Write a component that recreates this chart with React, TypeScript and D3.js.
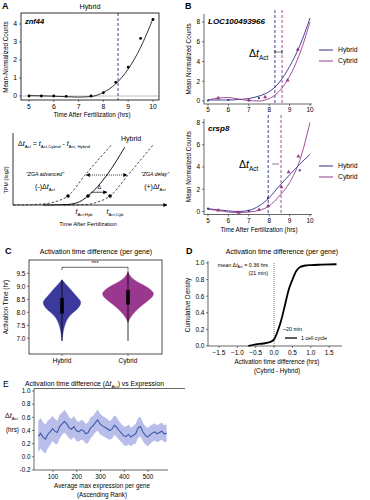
import React from 'react';
import * as d3 from 'd3';

const FONT = "'Liberation Sans', Arial, Helvetica, sans-serif";
const NAVY = '#2e2f86';
const PURPLE = '#973a8c';
const HYB_FILL = '#3b3a9c';
const CYB_FILL = '#9a378f';
const E_LINE = '#3a5aa8';
const E_BAND = '#b9bdea';

// ---------- Panel A (znf44, Hybrid)
const aObsTimes = [5, 5.5, 6, 6.5, 7.5, 8, 8.5, 9, 9.5, 10];
const aObsCounts = [0, 0, 0, -0.02, 0, 0.18, 0.76, 1.6, 3.2, 4.25];
const aFitTimes = [5, 5.5, 6, 6.5, 7, 7.5, 8, 8.5, 9, 9.5, 10];
const aFitCounts = [0.02, 0.01, -0.01, -0.04, -0.06, -0.03, 0.2, 0.68, 1.5, 2.7, 4.3];
const aActTime = 8.59;
const aXTicks = [5, 6, 7, 8, 9, 10];
const aYTicks = [0, 1, 2, 3, 4];

// ---------- Panel A schematic (relative units 0..100)
const sAdvancedX = [0, 12, 22, 30, 35.7, 46.8, 56.5, 64.3];
const sAdvancedY = [0, 0.5, 2, 6, 12, 40, 63, 81];
const sHybridX = [19.5, 34, 41.6, 48.7, 61, 72.5];
const sHybridY = [0, 0.5, 3, 12, 40, 77];
const sDelayX = [33, 47, 55, 63, 74.7, 90.9];
const sDelayY = [0, 0.5, 4, 12, 40, 80];

// ---------- Panel B
const bTimes = [5, 5.5, 6, 6.5, 7, 7.5, 8, 8.5, 9, 9.5, 10];
const bXTicks = [5, 6, 7, 8, 9, 10];
const bYTicks = [0, 2, 4, 6, 8];
const b1Hybrid = [0.1, 0.1, 0.1, 0.15, 0.25, 0.5, 0.95, 1.9, 3.5, 5.6, 8.4];
const b1Cybrid = [0.1, 0.3, 0.35, 0.2, 0.05, 0.0, 0.25, 1.0, 2.5, 4.8, 8.0];
const b1HybPtsT = [5, 6, 7, 7.5];
const b1HybPtsV = [0.05, 0.1, 0.05, 0.3];
const b1CybPtsT = [5.5, 7, 7.8, 8.9, 9.4];
const b1CybPtsV = [0.3, 0.1, 0.4, 2.1, 5.2];
const b1ActHybrid = 8.28;
const b1ActCybrid = 8.63;

const b2Hybrid = [0.25, 0.15, 0.05, 0.0, 0.1, 0.5, 1.25, 2.3, 3.3, 4.25, 5.15];
const b2Cybrid = [0.2, 0.1, -0.05, -0.1, -0.05, 0.1, 0.5, 1.4, 2.6, 4.6, 8.0];
const b2HybPtsT = [5, 7, 7.95, 9.5];
const b2HybPtsV = [0.25, 0.05, 1.2, 3.7];
const b2CybPtsT = [5.5, 6.5, 7.5, 7.95, 8.6, 8.95, 9.43];
const b2CybPtsV = [0.1, -0.1, 0.15, 0.5, 2.2, 3.55, 4.95];
const b2ActHybrid = 7.95;
const b2ActCybrid = 8.58;

// ---------- Panel C (violins)
const cGroups = ['Hybrid', 'Cybrid'];
const cYTicks = [7.0, 7.5, 8.0, 8.5, 9.0, 9.5];
const cHybridLevels = [6.9, 7.1, 7.3, 7.5, 7.7, 7.85, 8.0, 8.15, 8.3, 8.42, 8.55, 8.7, 8.85, 9.0, 9.12, 9.25];
const cHybridDensity = [0, 0.03, 0.07, 0.14, 0.25, 0.37, 0.6, 0.85, 0.98, 1.0, 0.85, 0.65, 0.5, 0.3, 0.15, 0];
const cCybridLevels = [7.6, 7.75, 7.95, 8.1, 8.27, 8.45, 8.6, 8.72, 8.85, 9.0, 9.12, 9.25, 9.4, 9.55];
const cCybridDensity = [0, 0.06, 0.2, 0.35, 0.53, 0.78, 0.95, 1.0, 0.9, 0.7, 0.45, 0.22, 0.08, 0];
const cHybridBox = [7.95, 8.55];
const cCybridBox = [8.3, 8.85];
const cHybridWhisker = [6.9, 9.25];
const cCybridWhisker = [6.9, 9.6];

// ---------- Panel D (CDF)
const dDiff = [-0.7, -0.5, -0.3, -0.1, 0.0, 0.1, 0.2, 0.3, 0.4, 0.5, 0.6, 0.7, 0.85, 1.0, 1.3, 1.7];
const dCdf = [0, 0.02, 0.03, 0.05, 0.08, 0.18, 0.32, 0.5, 0.68, 0.8, 0.9, 0.95, 0.97, 0.975, 0.98, 0.985];
const dXTicks = [-1.5, -1.0, -0.5, 0.0, 0.5, 1.0, 1.5];
const dYTicks = [0, 0.2, 0.4, 0.6, 0.8, 1.0];

// ---------- Panel E (rolling mean)
const eRank = [38, 48, 58, 68, 78, 88, 98, 108, 118, 128, 138, 148, 158, 168, 178, 188, 198, 208, 218, 228,
  238, 248, 258, 268, 278, 288, 298, 308, 318, 328, 338, 348, 358, 368, 378, 388, 398, 408, 418, 428,
  438, 448, 458, 468, 478, 488, 498, 508, 518, 528, 538, 548, 558, 568, 578];
const eValue = [0.31, 0.36, 0.30, 0.27, 0.34, 0.38, 0.43, 0.39, 0.37, 0.46, 0.50, 0.54, 0.50, 0.44, 0.42, 0.46, 0.40, 0.38, 0.41, 0.40,
  0.35, 0.37, 0.44, 0.47, 0.52, 0.56, 0.50, 0.47, 0.45, 0.43, 0.40, 0.42, 0.48, 0.45, 0.40, 0.36, 0.32, 0.31, 0.34, 0.30,
  0.33, 0.35, 0.44, 0.46, 0.38, 0.33, 0.30, 0.33, 0.36, 0.38, 0.35, 0.37, 0.39, 0.35, 0.36];
const eSpread = [0.24, 0.23, 0.22, 0.22, 0.21, 0.2, 0.19, 0.19, 0.18, 0.18, 0.17, 0.17, 0.17, 0.16, 0.16, 0.16, 0.16, 0.15, 0.15, 0.15,
  0.15, 0.16, 0.16, 0.15, 0.15, 0.16, 0.16, 0.15, 0.15, 0.15, 0.14, 0.15, 0.15, 0.15, 0.14, 0.14, 0.14, 0.15, 0.15, 0.14,
  0.14, 0.15, 0.15, 0.15, 0.14, 0.14, 0.14, 0.14, 0.13, 0.13, 0.13, 0.13, 0.13, 0.13, 0.13];
const eXTicks = [100, 200, 300, 400, 500];
const eYTicks = [-0.2, 0.0, 0.2, 0.4, 0.6, 0.8, 1.0];

type P = [number, number];

function Act({ x, y, size, anchor = 'start', prefix = '', italic = true }: any) {
  return (
    <text x={x} y={y} fontSize={size} textAnchor={anchor} fill="#000">
      {prefix}Δ<tspan fontStyle={italic ? 'italic' : 'normal'}>t</tspan>
      <tspan dy={size * 0.25} fontSize={size * 0.62}>Act</tspan>
    </text>
  );
}

function BPanel(p: any) {
  const x = d3.scaleLinear().domain([5, 10]).range([208, 310]);
  const y = d3.scaleLinear().domain([0, 8]).range([p.y0, p.y8]);
  const line = d3.line<P>().x(d => x(d[0])).y(d => y(d[1])).curve(d3.curveMonotoneX);
  const hyb = line(bTimes.map((t, i) => [t, p.hyb[i]] as P)) || '';
  const cyb = line(bTimes.map((t, i) => [t, p.cyb[i]] as P)) || '';
  const tri = d3.symbol().type(d3.symbolTriangle).size(7)() || '';
  return (
    <g>
      <line x1={204} x2={204} y1={p.axisTop} y2={p.axisBottom} stroke="#000" strokeWidth={0.6} />
      <line x1={204} x2={312} y1={p.axisBottom} y2={p.axisBottom} stroke="#000" strokeWidth={0.6} />
      {bYTicks.map(t => (
        <g key={'y' + t}>
          <line x1={202} x2={204} y1={y(t)} y2={y(t)} stroke="#000" strokeWidth={0.5} />
          <text x={200} y={y(t) + 2.3} fontSize={6.5} textAnchor="end">{t}</text>
        </g>
      ))}
      {bXTicks.map(t => (
        <g key={'x' + t}>
          <line x1={x(t)} x2={x(t)} y1={p.axisBottom} y2={p.axisBottom + 2} stroke="#000" strokeWidth={0.5} />
          <text x={x(t)} y={p.axisBottom + 8} fontSize={6.5} textAnchor="middle">{t}</text>
        </g>
      ))}
      <text transform={`translate(191,${(p.axisTop + p.axisBottom) / 2}) rotate(-90)`} fontSize={6.3} textAnchor="middle">Mean Normalized Counts</text>
      <line x1={x(p.actH)} x2={x(p.actH)} y1={p.axisTop - 4} y2={p.axisBottom} stroke={NAVY} strokeWidth={0.9} strokeDasharray="3,2" />
      <line x1={x(p.actC)} x2={x(p.actC)} y1={p.axisTop - 4} y2={p.axisBottom} stroke={PURPLE} strokeWidth={0.9} strokeDasharray="3,2" />
      <path d={hyb} fill="none" stroke={NAVY} strokeWidth={0.9} />
      <path d={cyb} fill="none" stroke={PURPLE} strokeWidth={0.9} />
      {p.hybPtsT.map((t: number, i: number) => (
        <circle key={'hp' + i} cx={x(t)} cy={y(p.hybPtsV[i])} r={1.1} fill={NAVY} />
      ))}
      {p.cybPtsT.map((t: number, i: number) => (
        <path key={'cp' + i} d={tri} transform={`translate(${x(t)},${y(p.cybPtsV[i])})`} fill={PURPLE} />
      ))}
      <text x={208} y={p.geneY} fontSize={8} fontStyle="italic" fontWeight="bold">{p.gene}</text>
      <Act x={p.deltaX} y={p.deltaY} size={10.5} />
      <path d={p.markPath} fill="none" stroke="#000" strokeWidth={0.5} />
      <line x1={319} x2={333} y1={p.legY} y2={p.legY} stroke={NAVY} strokeWidth={1} />
      <text x={338} y={p.legY + 2.3} fontSize={6.8}>Hybrid</text>
      <line x1={319} x2={333} y1={p.legY + 11} y2={p.legY + 11} stroke={PURPLE} strokeWidth={1} />
      <text x={338} y={p.legY + 13.3} fontSize={6.8}>Cybrid</text>
    </g>
  );
}

export default function App() {
  // Panel A
  const ax = d3.scaleLinear().domain([5, 10]).range([29, 153]);
  const ay = d3.scaleLinear().domain([0, 4]).range([96, 24]);
  const aLine = d3.line<P>().x(d => ax(d[0])).y(d => ay(d[1])).curve(d3.curveMonotoneX);
  const aPath = aLine(aFitTimes.map((t, i) => [t, aFitCounts[i]] as P)) || '';

  // schematic
  const sx = d3.scaleLinear().domain([0, 100]).range([13, 167]);
  const sy = d3.scaleLinear().domain([0, 100]).range([205, 130]);
  const sLine = d3.line<P>().x(d => sx(d[0])).y(d => sy(d[1])).curve(d3.curveMonotoneX);
  const sAdv = sLine(sAdvancedX.map((v, i) => [v, sAdvancedY[i]] as P)) || '';
  const sHyb = sLine(sHybridX.map((v, i) => [v, sHybridY[i]] as P)) || '';
  const sDel = sLine(sDelayX.map((v, i) => [v, sDelayY[i]] as P)) || '';

  // Panel C
  const cx = d3.scalePoint<string>().domain(cGroups).range([62, 128]);
  const cy = d3.scaleLinear().domain([7, 9.5]).range([338.3, 273.3]);
  const violin = (levels: number[], dens: number[], center: number, maxW: number) =>
    d3.area<number>()
      .y((_, i) => cy(levels[i]))
      .x0(d => center - d * maxW)
      .x1(d => center + d * maxW)
      .curve(d3.curveBasis)(dens) || '';
  const hybV = violin(cHybridLevels, cHybridDensity, cx('Hybrid') as number, 19);
  const cybV = violin(cCybridLevels, cCybridDensity, cx('Cybrid') as number, 26);

  // Panel D
  const dx = d3.scaleLinear().domain([-1.8, 1.85]).range([208, 342]);
  const dy = d3.scaleLinear().domain([0, 1]).range([346, 263]);
  const dPath = d3.line<P>().x(d => dx(d[0])).y(d => dy(d[1])).curve(d3.curveMonotoneX)(dDiff.map((v, i) => [v, dCdf[i]] as P)) || '';

  // Panel E
  const ex = d3.scaleLinear().domain([20, 584]).range([34, 168]);
  const ey = d3.scaleLinear().domain([-0.2, 1.0]).range([470, 391]);
  const eLine = d3.line<number>().x((_, i) => ex(eRank[i])).y(d => ey(d))(eValue) || '';
  const eArea = d3.area<number>().x((_, i) => ex(eRank[i]))
    .y0((d, i) => ey(d - eSpread[i])).y1((d, i) => ey(d + eSpread[i]))(eValue) || '';

  return (
    <svg width={370} height={500} style={{ position: 'absolute', left: 0, top: 0, background: '#fff' }} fontFamily={FONT} fill="#000">
      <defs>
        <marker id="arr" viewBox="0 0 6 6" refX={5.5} refY={3} markerWidth={4} markerHeight={4} orient="auto" markerUnits="userSpaceOnUse">
          <path d="M0,0 L6,3 L0,6 z" fill="#000" />
        </marker>
      </defs>

      {/* ---------------- Panel A top ---------------- */}
      <text x={2} y={9} fontSize={9} fontWeight="bold">A</text>
      <text x={90} y={9} fontSize={7.3} textAnchor="middle">Hybrid</text>
      <line x1={21} x2={159} y1={ay(0)} y2={ay(0)} stroke="#b0b0b0" strokeWidth={0.8} />
      <line x1={ax(aActTime)} x2={ax(aActTime)} y1={13} y2={100} stroke={NAVY} strokeWidth={0.9} strokeDasharray="3,2" />
      <path d={aPath} fill="none" stroke="#000" strokeWidth={0.8} />
      {aObsTimes.map((t, i) => (
        <circle key={'ap' + i} cx={ax(t)} cy={ay(aObsCounts[i])} r={1.4} fill="#000" />
      ))}
      <rect x={21} y={13} width={138} height={87} fill="none" stroke="#000" strokeWidth={0.8} />
      {aXTicks.map(t => (
        <g key={'ax' + t}>
          <line x1={ax(t)} x2={ax(t)} y1={100} y2={102} stroke="#000" strokeWidth={0.5} />
          <text x={ax(t)} y={108.5} fontSize={6.8} textAnchor="middle">{t}</text>
        </g>
      ))}
      {aYTicks.map(t => (
        <g key={'ay' + t}>
          <line x1={19} x2={21} y1={ay(t)} y2={ay(t)} stroke="#000" strokeWidth={0.5} />
          <text x={17} y={ay(t) + 2.4} fontSize={6.8} textAnchor="end">{t}</text>
        </g>
      ))}
      <text x={25} y={24} fontSize={7.5} fontStyle="italic" fontWeight="bold">znf44</text>
      <text transform="translate(8,57) rotate(-90)" fontSize={6.3} textAnchor="middle">Mean-Normalized Counts</text>
      <text x={92} y={117} fontSize={6.3} textAnchor="middle">Time After Fertilization (hrs)</text>

      {/* ---------------- Schematic ---------------- */}
      <line x1={13} x2={13} y1={133} y2={205} stroke="#000" strokeWidth={0.8} />
      <line x1={13} x2={167} y1={205} y2={205} stroke="#000" strokeWidth={0.8} markerEnd="url(#arr)" />
      <text transform="translate(8,180) rotate(-90)" fontSize={5.5} textAnchor="middle">TPM (log2)</text>
      <text x={18} y={146} fontSize={7}>
        Δ<tspan fontStyle="italic">t</tspan><tspan dy={1.8} fontSize={4.3}>Act</tspan>
        <tspan dy={-1.8}> = </tspan><tspan fontStyle="italic">t</tspan><tspan dy={1.8} fontSize={4.3}>Act,Cybrid</tspan>
        <tspan dy={-1.8}> - </tspan><tspan fontStyle="italic">t</tspan><tspan dy={1.8} fontSize={4.3}>Act, Hybrid</tspan>
      </text>
      <text x={121} y={141} fontSize={7}>Hybrid</text>
      <path d={sAdv} fill="none" stroke="#000" strokeWidth={0.7} strokeDasharray="2.5,1.8" />
      <path d={sDel} fill="none" stroke="#000" strokeWidth={0.7} strokeDasharray="2.5,1.8" />
      <path d={sHyb} fill="none" stroke="#000" strokeWidth={0.9} />
      <line x1={sx(61)} x2={sx(47.5)} y1={sy(40)} y2={sy(40)} stroke="#000" strokeWidth={0.8} strokeDasharray="1,1" markerEnd="url(#arr)" />
      <line x1={sx(61)} x2={sx(74)} y1={sy(40)} y2={sy(40)} stroke="#000" strokeWidth={0.8} strokeDasharray="1,1" markerEnd="url(#arr)" />
      <line x1={sx(50.5)} x2={sx(61)} y1={sy(17)} y2={sy(17)} stroke="#000" strokeWidth={0.7} markerEnd="url(#arr)" />
      <text x={sx(56)} y={sy(22)} fontSize={5.5} textAnchor="middle">Δ</text>
      {[35.7, 48.7, 63].map((u, i) => (
        <circle key={'sd' + i} cx={sx(u)} cy={sy(12)} r={1.8} fill="#000" />
      ))}
      <text x={45} y={176} fontSize={5.2} fontStyle="italic" textAnchor="middle">"ZGA advanced"</text>
      <Act x={45} y={189} size={7} anchor="middle" prefix="(-)" />
      <text x={155} y={176} fontSize={5.2} fontStyle="italic" textAnchor="middle">"ZGA delay"</text>
      <Act x={155} y={189} size={7} anchor="middle" prefix="(+)" />
      <text x={84} y={214} fontSize={7} textAnchor="middle">
        <tspan fontStyle="italic">t</tspan><tspan dy={1.8} fontSize={4.3}>Act,Hyb</tspan>
      </text>
      <text x={115} y={214} fontSize={7} textAnchor="middle">
        <tspan fontStyle="italic">t</tspan><tspan dy={1.8} fontSize={4.3}>Act,Cyb</tspan>
      </text>
      <text x={88} y={226} fontSize={5.8} textAnchor="middle">Time After Fertilization</text>

      {/* ---------------- Panel B ---------------- */}
      <text x={185} y={9} fontSize={9} fontWeight="bold">B</text>
      <BPanel gene="LOC100493966" hyb={b1Hybrid} cyb={b1Cybrid}
        hybPtsT={b1HybPtsT} hybPtsV={b1HybPtsV} cybPtsT={b1CybPtsT} cybPtsV={b1CybPtsV}
        actH={b1ActHybrid} actC={b1ActCybrid}
        y0={101} y8={22} axisTop={14} axisBottom={104} geneY={24}
        deltaX={249} deltaY={57} legY={50}
        markPath="M275,52 H282 M275,50 V54 M282,50 V54" />
      <BPanel gene="crsp8" hyb={b2Hybrid} cyb={b2Cybrid}
        hybPtsT={b2HybPtsT} hybPtsV={b2HybPtsV} cybPtsT={b2CybPtsT} cybPtsV={b2CybPtsV}
        actH={b2ActHybrid} actC={b2ActCybrid}
        y0={211.5} y8={122.5} axisTop={119} axisBottom={214.5} geneY={131}
        deltaX={239} deltaY={168} legY={166}
        markPath="M272,164 H279" />
      <text x={259} y={232} fontSize={6.3} textAnchor="middle">Time After Fertilization (hrs)</text>

      {/* ---------------- Panel C ---------------- */}
      <text x={5} y={254} fontSize={9} fontWeight="bold">C</text>
      <text x={96} y={254} fontSize={7} textAnchor="middle">Activation time difference (per gene)</text>
      <path d={hybV} fill={HYB_FILL} stroke={HYB_FILL} strokeWidth={0.4} />
      <path d={cybV} fill={CYB_FILL} stroke={CYB_FILL} strokeWidth={0.4} />
      <line x1={cx('Hybrid')} x2={cx('Hybrid')} y1={cy(cHybridWhisker[0])} y2={cy(cHybridWhisker[1])} stroke="#000" strokeWidth={0.8} />
      <line x1={cx('Cybrid')} x2={cx('Cybrid')} y1={cy(cCybridWhisker[0])} y2={cy(cCybridWhisker[1])} stroke="#000" strokeWidth={0.8} />
      <rect x={(cx('Hybrid') as number) - 1.8} y={cy(cHybridBox[1])} width={3.6} height={cy(cHybridBox[0]) - cy(cHybridBox[1])} fill="#000" />
      <rect x={(cx('Cybrid') as number) - 1.8} y={cy(cCybridBox[1])} width={3.6} height={cy(cCybridBox[0]) - cy(cCybridBox[1])} fill="#000" />
      <path d={`M${cx('Hybrid')},270 V267.3 H${cx('Cybrid')} V270`} fill="none" stroke="#000" strokeWidth={0.6} />
      <text x={95} y={265} fontSize={6} textAnchor="middle">***</text>
      <rect x={29} y={260} width={133} height={94} fill="none" stroke="#000" strokeWidth={0.7} />
      {cYTicks.map(t => (
        <g key={'cy' + t}>
          <line x1={27} x2={29} y1={cy(t)} y2={cy(t)} stroke="#000" strokeWidth={0.5} />
          <text x={25.5} y={cy(t) + 2.3} fontSize={6.5} textAnchor="end">{t.toFixed(1)}</text>
        </g>
      ))}
      {cGroups.map(g => (
        <g key={'cx' + g}>
          <line x1={cx(g)} x2={cx(g)} y1={354} y2={356} stroke="#000" strokeWidth={0.5} />
          <text x={cx(g)} y={363} fontSize={6.5} textAnchor="middle">{g}</text>
        </g>
      ))}
      <text transform="translate(8,307) rotate(-90)" fontSize={6.3} textAnchor="middle">Activation Time (hr)</text>

      {/* ---------------- Panel D ---------------- */}
      <text x={186} y={254} fontSize={9} fontWeight="bold">D</text>
      <text x={282} y={254} fontSize={7} textAnchor="middle" fill="#000">Activation time difference (per gene)</text>
      <line x1={208} x2={208} y1={261} y2={346} stroke="#000" strokeWidth={0.6} />
      <line x1={208} x2={342} y1={346} y2={346} stroke="#000" strokeWidth={0.6} />
      {dYTicks.map(t => (
        <g key={'dy' + t}>
          <line x1={206} x2={208} y1={dy(t)} y2={dy(t)} stroke="#000" strokeWidth={0.5} />
          <text x={204.5} y={dy(t) + 2.3} fontSize={6.5} textAnchor="end">{t.toFixed(1)}</text>
        </g>
      ))}
      {dXTicks.map(t => (
        <g key={'dx' + t}>
          <line x1={dx(t)} x2={dx(t)} y1={346} y2={348} stroke="#000" strokeWidth={0.5} />
          <text x={dx(t)} y={355} fontSize={6.5} textAnchor="middle">{t < 0 ? '\u2212' + Math.abs(t).toFixed(1) : t.toFixed(1)}</text>
        </g>
      ))}
      <line x1={dx(0)} x2={dx(0)} y1={263} y2={346} stroke="#000" strokeWidth={0.6} strokeDasharray="0.8,1.2" />
      <path d={dPath} fill="none" stroke="#000" strokeWidth={1.8} />
      <text x={268} y={267} fontSize={5.3} textAnchor="end">
        mean Δ<tspan fontStyle="italic">t</tspan><tspan dy={1.3} fontSize={3.6}>Act</tspan><tspan dy={-1.3}> = 0.36 hrs</tspan>
      </text>
      <text x={268} y={275} fontSize={5.3} textAnchor="end">(21 min)</text>
      <text x={283} y={331} fontSize={5.3}>~20 min</text>
      <line x1={285} x2={297} y1={338} y2={338} stroke="#000" strokeWidth={1.3} />
      <text x={301} y={340} fontSize={5.3}>1 cell cycle</text>
      <text transform="translate(190,305) rotate(-90)" fontSize={6.3} textAnchor="middle">Cumulative Density</text>
      <text x={277} y={364} fontSize={6.3} textAnchor="middle">Activation time difference (hrs)</text>
      <text x={277} y={373} fontSize={6.3} textAnchor="middle">(Cybrid - Hybrid)</text>

      {/* ---------------- Panel E ---------------- */}
      <text x={3} y={387} fontSize={8.5}>E</text>
      <text x={25} y={386} fontSize={6.8}>
        Activation time difference (Δ<tspan fontStyle="italic">t</tspan><tspan dy={1.5} fontSize={4.3}>Act</tspan><tspan dy={-1.5}>) vs Expression</tspan>
      </text>
      <line x1={34} x2={185} y1={388.5} y2={388.5} stroke="#000" strokeWidth={0.6} />
      <path d={eArea} fill={E_BAND} stroke="none" />
      <path d={eLine} fill="none" stroke={E_LINE} strokeWidth={1.1} />
      <line x1={34} x2={34} y1={388.5} y2={470} stroke="#000" strokeWidth={0.6} />
      <line x1={34} x2={168} y1={470} y2={470} stroke="#000" strokeWidth={0.6} />
      {eYTicks.map(t => (
        <g key={'ey' + t}>
          <line x1={32} x2={34} y1={ey(t)} y2={ey(t)} stroke="#000" strokeWidth={0.5} />
          <text x={30.5} y={ey(t) + 2.3} fontSize={6.3} textAnchor="end">{t.toFixed(1)}</text>
        </g>
      ))}
      {eXTicks.map(t => (
        <g key={'ex' + t}>
          <line x1={ex(t)} x2={ex(t)} y1={470} y2={472} stroke="#000" strokeWidth={0.5} />
          <text x={ex(t)} y={479} fontSize={6.3} textAnchor="middle">{t}</text>
        </g>
      ))}
      <Act x={5} y={418} size={7} />
      <text x={6} y={432} fontSize={6.3}>(hrs)</text>
      <text x={102} y={488} fontSize={6.3} textAnchor="middle">Average max expression per gene</text>
      <text x={102} y={497} fontSize={6.3} textAnchor="middle">(Ascending Rank)</text>
    </svg>
  );
}
